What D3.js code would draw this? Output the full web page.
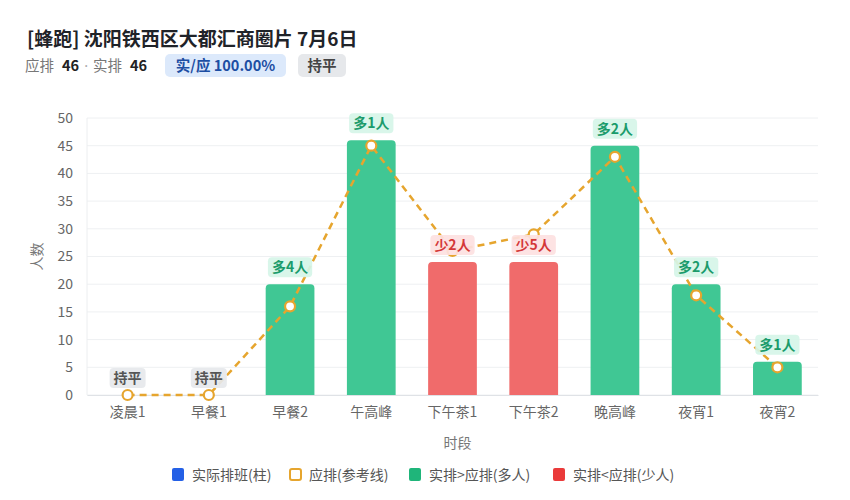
<!DOCTYPE html>
<html>
<head>
<meta charset="utf-8">
<script src="https://cdn.jsdelivr.net/npm/d3@7"></script>
<style>
  body { margin: 0; background: #fff; font-family: "Noto Sans CJK SC", "Noto Sans", sans-serif; }
  svg text { font-family: "Noto Sans CJK SC", "Noto Sans", sans-serif; }
</style>
</head>
<body>
<div id="chart"></div>
<script>
var slots = ["凌晨1", "早餐1", "早餐2", "午高峰", "下午茶1", "下午茶2", "晚高峰", "夜宵1", "夜宵2"]
var actual = [0, 0, 20, 46, 24, 24, 45, 20, 6]
var planned = [0, 0, 16, 45, 26, 29, 43, 18, 5]
var yTicks = [0, 5, 10, 15, 20, 25, 30, 35, 40, 45, 50]
var legendItems = ["实际排班(柱)", "应排(参考线)", "实排>应排(多人)", "实排<应排(少人)"]

var fullWidth = 850
var fullHeight = 500
var margin = { top: 118, right: 32, bottom: 105, left: 87 }
var width = fullWidth - margin.left - margin.right
var height = fullHeight - margin.top - margin.bottom

var green = "#40c794", red = "#f06b6b", orange = "#e6a52e"

var svg = d3.select("#chart").append("svg")
  .attr("width", fullWidth)
  .attr("height", fullHeight)

// Title block
svg.append("text")
  .attr("x", 27).attr("y", 46)
  .attr("font-size", 19).attr("font-weight", "bold").attr("fill", "#1f2329")
  .text("[蜂跑] 沈阳铁西区大都汇商圈片 7月6日")

// summary line: plain label / bold number pairs
var sub = svg.append("text").attr("x", 25).attr("y", 71).attr("font-size", 14.5)
sub.append("tspan").attr("fill", "#777").text("应排")
sub.append("tspan").attr("dx", 8).attr("fill", "#222").attr("font-weight", "bold").text("46")
sub.append("tspan").attr("dx", 5).attr("fill", "#aaa").style("font-family", "Noto Sans").text("·")
sub.append("tspan").attr("dx", 5).attr("fill", "#777").text("实排")
sub.append("tspan").attr("dx", 8).attr("fill", "#222").attr("font-weight", "bold").text("46")

svg.append("rect").attr("x", 165).attr("y", 54).attr("width", 121).attr("height", 23).attr("rx", 5)
  .attr("fill", "#dce9fb")
svg.append("text").attr("x", 225.5).attr("y", 71).attr("text-anchor", "middle")
  .attr("font-size", 14.5).attr("font-weight", "bold").attr("fill", "#1d4ea3")
  .text("实/应 100.00%")
svg.append("rect").attr("x", 298).attr("y", 54).attr("width", 48).attr("height", 23).attr("rx", 5)
  .attr("fill", "#e6e8eb")
svg.append("text").attr("x", 322).attr("y", 71).attr("text-anchor", "middle")
  .attr("font-size", 14.5).attr("font-weight", "bold").attr("fill", "#444")
  .text("持平")

var x = d3.scaleBand().domain(slots).range([0, width]).paddingInner(0.4).paddingOuter(0.2)
var y = d3.scaleLinear().domain([0, 50]).range([height, 0])

var g = svg.append("g").attr("transform", `translate(${margin.left},${margin.top})`)

// grid
g.selectAll(".grid").data(yTicks).enter().append("line")
  .attr("x1", 0).attr("x2", width)
  .attr("y1", d => y(d)).attr("y2", d => y(d))
  .attr("stroke", "#eef0f2").attr("stroke-width", 1)

g.append("line").attr("x1", 0).attr("x2", 0).attr("y1", 0).attr("y2", height)
  .attr("stroke", "#eceef0")

// y axis
var yAxis = g.append("g")
  .call(d3.axisLeft(y).tickValues(yTicks).tickSize(0).tickPadding(14))
yAxis.select(".domain").remove()
yAxis.selectAll("text").attr("font-size", 14).attr("fill", "#666")

// x axis
var xAxis = g.append("g").attr("transform", `translate(0,${height})`)
  .call(d3.axisBottom(x).tickSize(0).tickPadding(12))
xAxis.select(".domain").attr("stroke", "#dfe2e6")
xAxis.selectAll("text").attr("font-size", 14).attr("fill", "#666")

// axis titles
g.append("text").attr("x", width / 2 + 5).attr("y", height + 53)
  .attr("text-anchor", "middle").attr("font-size", 14).attr("fill", "#777").text("时段")
g.append("text").attr("transform", "rotate(-90)")
  .attr("x", -(y(25))).attr("y", -45)
  .attr("text-anchor", "middle").attr("font-size", 14).attr("fill", "#777").text("人数")

// bars with rounded top corners
function barPath(x0, w, y0, y1, r) {
  var h = y1 - y0
  if (h <= 0) return ""
  r = Math.min(r, h, w / 2)
  return `M${x0},${y1}V${y0 + r}Q${x0},${y0} ${x0 + r},${y0}H${x0 + w - r}Q${x0 + w},${y0} ${x0 + w},${y0 + r}V${y1}Z`
}

g.selectAll(".bar").data(slots).enter().append("path")
  .attr("d", (d, i) => barPath(x(d), x.bandwidth(), y(actual[i]), y(0), 4))
  .attr("fill", (d, i) => actual[i] >= planned[i] ? green : red)

// planned line
var line = d3.line().x((d, i) => x(slots[i]) + x.bandwidth() / 2).y(d => y(d))
g.append("path").datum(planned)
  .attr("d", line).attr("fill", "none")
  .attr("stroke", orange).attr("stroke-width", 2.5).attr("stroke-dasharray", "7,5")

g.selectAll(".pt").data(planned).enter().append("circle")
  .attr("cx", (d, i) => x(slots[i]) + x.bandwidth() / 2)
  .attr("cy", d => y(d))
  .attr("r", 5).attr("fill", "#fff").attr("stroke", orange).attr("stroke-width", 2.2)

// diff badges
var badges = g.selectAll(".badge").data(slots).enter().append("g")
  .attr("transform", (d, i) => `translate(${x(d) + x.bandwidth() / 2},${y(actual[i]) - 17})`)
badges.each(function (d, i) {
  var diff = actual[i] - planned[i]
  var txt = diff === 0 ? "持平" : (diff > 0 ? "多" + diff + "人" : "少" + (-diff) + "人")
  var bg = diff === 0 ? "#e6e8eb" : (diff > 0 ? "#d6f5e8" : "#fde1e1")
  var fg = diff === 0 ? "#555" : (diff > 0 ? "#1b9b6b" : "#d43838")
  var sel = d3.select(this)
  var rect = sel.append("rect").attr("y", -10).attr("height", 20).attr("rx", 4)
    .attr("fill", bg).attr("fill-opacity", 0.92)
  var t = sel.append("text").attr("text-anchor", "middle").attr("dy", "0.36em")
    .attr("font-size", 14).attr("font-weight", "bold").attr("fill", fg).text(txt)
  var w = t.node().getComputedTextLength() + 8
  rect.attr("x", -w / 2).attr("width", w)
})

// legend
var legendX = [172, 289, 409, 553]
var legend = svg.append("g").attr("transform", "translate(0,475)")
legendItems.forEach((t, i) => {
  var item = legend.append("g").attr("transform", `translate(${legendX[i]},0)`)
  if (i === 1) {
    item.append("rect").attr("x", 1).attr("y", -6).attr("width", 11).attr("height", 11).attr("rx", 2)
      .attr("fill", "#fff").attr("stroke", orange).attr("stroke-width", 2)
  } else {
    item.append("rect").attr("x", 0).attr("y", -7).attr("width", 12).attr("height", 13).attr("rx", 2)
      .attr("fill", ["#2460e6", null, "#1fb57a", "#ea3a3a"][i])
  }
  item.append("text").attr("x", 20).attr("dy", "0.35em").attr("font-size", 14).attr("fill", "#555").text(t)
})
</script>
</body>
</html>
